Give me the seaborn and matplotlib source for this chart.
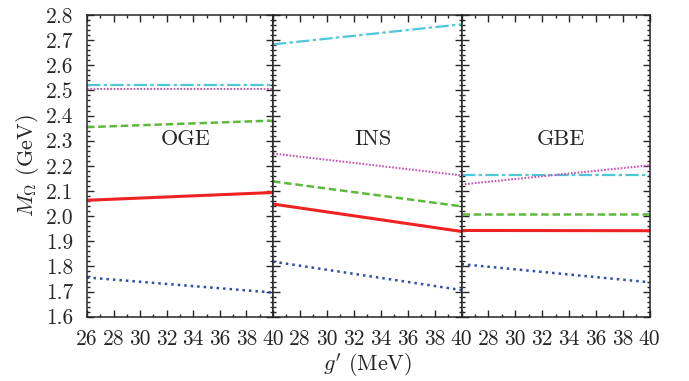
import numpy as np
import pandas as pd
import seaborn as sns
import matplotlib.pyplot as plt
from matplotlib.ticker import MultipleLocator

# g' endpoints (MeV) for each model panel
g_prime = [26, 40]
models = ['OGE', 'INS', 'GBE']

# M_Omega (GeV) per state, one list per model
red_solid = {'OGE': [2.063, 2.094], 'INS': [2.048, 1.939], 'GBE': [1.943, 1.942]}
green_dashed = {'OGE': [2.354, 2.380], 'INS': [2.138, 2.039], 'GBE': [2.009, 2.009]}
blue_dotted = {'OGE': [1.756, 1.696], 'INS': [1.819, 1.706], 'GBE': [1.809, 1.737]}
magenta_dotted = {'OGE': [2.505, 2.505], 'INS': [2.249, 2.162], 'GBE': [2.126, 2.202]}
cyan_dashdot = {'OGE': [2.520, 2.520], 'INS': [2.683, 2.763], 'GBE': [2.162, 2.162]}

sns.set_style('ticks')
plt.rcParams['font.family'] = ['cmr10', 'DejaVu Serif']
plt.rcParams['mathtext.fontset'] = 'cm'
plt.rcParams['axes.formatter.use_mathtext'] = True

series = [
    (cyan_dashdot, '#4fc6da', (0, (6, 1.5, 1.5, 1.5)), 1.6),
    (magenta_dotted, '#c457b4', (0, (0.8, 0.8)), 1.5),
    (green_dashed, '#5cb93a', (0, (3, 1.5)), 1.8),
    (red_solid, '#ee2222', '-', 2.2),
    (blue_dotted, '#2f4fa6', (0, (1, 1.6)), 1.8),
]

fig = plt.figure(figsize=(6.89, 3.81), dpi=100)
lefts = [87, 273, 461.5]
widths = [186, 188.5, 188]
axes = []
for i, model in enumerate(models):
    ax = fig.add_axes([lefts[i] / 689, 64.3 / 381, widths[i] / 689, 301.7 / 381])
    axes.append(ax)
    for data, color, ls, lw in series:
        df = pd.DataFrame({'g': g_prime, 'M': data[model]})
        sns.lineplot(data=df, x='g', y='M', ax=ax, color=color, lw=lw, linestyle=ls)
    ax.set_xlim(26, 40)
    ax.set_ylim(1.6, 2.8)
    ax.xaxis.set_major_locator(MultipleLocator(2))
    ax.xaxis.set_minor_locator(MultipleLocator(1))
    ax.yaxis.set_major_locator(MultipleLocator(0.1))
    ax.yaxis.set_minor_locator(MultipleLocator(0.02))
    ax.tick_params(which='both', direction='in', top=True, right=True,
                   labelsize=15.5, width=1.0)
    ax.tick_params(axis='x', pad=9)
    ax.tick_params(axis='y', pad=10)
    ax.tick_params(which='major', length=5)
    ax.tick_params(which='minor', length=2.5)
    for s in ax.spines.values():
        s.set_linewidth(1.1)
    ax.set_xlabel('')
    ax.set_ylabel('')
    ax.set_xticks(np.arange(26, 41, 2))
    if i == 0:
        ax.set_xticklabels([str(v) for v in range(26, 41, 2)])
        ax.yaxis.set_major_formatter(plt.FormatStrFormatter('%.1f'))
    else:
        ax.set_xticklabels([''] + [str(v) for v in range(28, 41, 2)])
        ax.tick_params(labelleft=False)
    ax.text(33.4, 2.305, model, ha='center', va='center', fontsize=16)

axes[0].set_ylabel(r'$M_\Omega$ (GeV)', fontsize=16, labelpad=3)
axes[1].set_xlabel(r"$g'$ (MeV)", fontsize=16, labelpad=2)

plt.savefig('out.png', dpi=100)
plt.close()
